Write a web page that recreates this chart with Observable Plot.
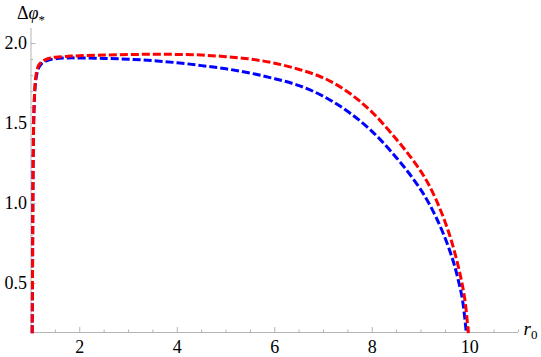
<!DOCTYPE html>
<html>
<head>
<meta charset="utf-8">
<script src="https://cdn.jsdelivr.net/npm/d3@7"></script>
<script src="https://cdn.jsdelivr.net/npm/@observablehq/plot@0.6"></script>
<style>
  html, body { margin: 0; padding: 0; background: #fff; }
  #chart svg { display: block; }
  #chart svg text { font-family: "Liberation Serif", "DejaVu Serif", "Tinos", "Times New Roman", serif !important; }
</style>
</head>
<body>
<div id="chart"></div>
<script>
// Blue curve (r0, Δφ*)
const blueX = [1.025, 1.032, 1.038, 1.045, 1.055, 1.07, 1.09, 1.12, 1.16, 1.22, 1.3, 1.4, 1.5, 1.75, 2.0, 2.5, 3.0, 3.5, 4.0, 4.5, 5.0, 5.5, 6.0, 6.5, 7.0, 7.5, 8.0, 8.5, 8.85, 9.1, 9.3, 9.5, 9.65, 9.75, 9.85, 9.93];
const blueY = [0.19, 0.6, 1.0, 1.3, 1.5, 1.65, 1.75, 1.81, 1.85, 1.875, 1.89, 1.9, 1.905, 1.91, 1.91, 1.907, 1.902, 1.893, 1.88, 1.862, 1.842, 1.815, 1.78, 1.737, 1.67, 1.575, 1.45, 1.285, 1.15, 1.035, 0.92, 0.78, 0.65, 0.54, 0.40, 0.19];
// Red curve (r0, Δφ*)
const redX = [1.025, 1.032, 1.038, 1.045, 1.055, 1.07, 1.09, 1.12, 1.16, 1.22, 1.3, 1.4, 1.5, 1.75, 2.0, 2.5, 3.0, 3.5, 4.0, 4.5, 5.0, 5.5, 6.0, 6.5, 7.0, 7.5, 8.0, 8.5, 8.85, 9.1, 9.3, 9.5, 9.65, 9.8, 9.9, 9.97];
const redY = [0.19, 0.6, 1.0, 1.3, 1.52, 1.67, 1.77, 1.83, 1.865, 1.885, 1.9, 1.91, 1.915, 1.92, 1.924, 1.928, 1.931, 1.933, 1.932, 1.928, 1.918, 1.903, 1.877, 1.838, 1.785, 1.697, 1.57, 1.40, 1.265, 1.15, 1.03, 0.88, 0.74, 0.56, 0.40, 0.19];
// Axis ticks and labels
const xMajor = [2, 4, 6, 8, 10];
const xMinor = [1.5, 2.5, 3, 3.5, 4.5, 5, 5.5, 6.5, 7, 7.5, 8.5, 9, 9.5, 10.5, 11];
const yMajor = [0.5, 1.0, 1.5, 2.0];
const yMinor = [0.3, 0.4, 0.6, 0.7, 0.8, 0.9, 1.1, 1.2, 1.3, 1.4, 1.6, 1.7, 1.8, 1.9];
const xDomain = [1, 11];
const yDomain = [0.194, 2.094];
const xLabel = "r0";
const yLabel = "Δφ*";

const blue = blueX.map((x, i) => ({x, y: blueY[i]}));
const red = redX.map((x, i) => ({x, y: redY[i]}));

const W = 541, H = 357;
const mL = 30.5, mR = 23, mT = 28, mB = 25;
const pxPerX = (W - mL - mR) / (xDomain[1] - xDomain[0]);
const pxPerY = (H - mT - mB) / (yDomain[1] - yDomain[0]);
const x0 = xDomain[0], y0 = yDomain[0];
const axisColor = "#b5b5b5";
const font = "'Liberation Serif', 'DejaVu Serif', serif";

const plot = Plot.plot({
  width: W, height: H,
  marginLeft: mL, marginRight: mR, marginTop: mT, marginBottom: mB,
  x: {domain: xDomain, axis: null},
  y: {domain: yDomain, axis: null},
  style: {background: "white", overflow: "visible"},
  marks: [
    // axis lines
    Plot.ruleY([y0], {x1: x0, x2: xDomain[1], stroke: axisColor, strokeWidth: 1}),
    Plot.ruleX([x0], {y1: y0, y2: yDomain[1], stroke: axisColor, strokeWidth: 1}),
    // x ticks (inward)
    Plot.ruleX(xMajor, {y1: y0, y2: y0 + 5 / pxPerY, stroke: axisColor}),
    Plot.ruleX(xMinor, {y1: y0, y2: y0 + 2.5 / pxPerY, stroke: axisColor}),
    // y ticks (inward)
    Plot.ruleY(yMajor, {x1: x0, x2: x0 + 5 / pxPerX, stroke: axisColor}),
    Plot.ruleY(yMinor, {x1: x0, x2: x0 + 2.5 / pxPerX, stroke: axisColor}),
    // tick labels
    Plot.text(xMajor, {x: d => d, y: y0, text: d => String(d), dy: 15, fontSize: 18, fontFamily: font, fill: "black"}),
    Plot.text(yMajor, {x: x0, y: d => d, text: d => d.toFixed(1), dx: -4, textAnchor: "end", fontSize: 18, fontFamily: font, fill: "black"}),
    // curves
    Plot.line(blue, {x: "x", y: "y", stroke: "#0000ff", strokeWidth: 3, strokeDasharray: "8,3", strokeLinecap: "butt", strokeLinejoin: "miter", curve: "catmull-rom"}),
    Plot.line(red, {x: "x", y: "y", stroke: "#ff0000", strokeWidth: 3, strokeDasharray: "8,3", strokeLinecap: "butt", strokeLinejoin: "miter", curve: "catmull-rom"}),
    // axis labels
    Plot.text([xLabel], {x: xDomain[1], y: y0, text: d => d, dx: 5, dy: -4, textAnchor: "start", fontSize: 19, fontFamily: font, fill: "black", className: "xlab"}),
    Plot.text([yLabel], {x: x0, y: yDomain[1], text: d => d, dy: -15, textAnchor: "middle", fontSize: 18, fontFamily: font, fill: "black", className: "ylab"})
  ]
});
document.getElementById("chart").appendChild(plot);

// Format axis labels with italic and subscripts
d3.select(plot).selectAll(".xlab text").each(function() {
  const t = d3.select(this);
  t.text(null);
  t.append("tspan").attr("font-style", "italic").text("r");
  t.append("tspan").attr("font-size", 13).attr("dy", 4).text("0");
});
d3.select(plot).selectAll(".ylab text").each(function() {
  const t = d3.select(this);
  t.text(null);
  t.append("tspan").text("Δ");
  t.append("tspan").attr("font-style", "italic").text("φ");
  t.append("tspan").attr("font-size", 13).attr("dy", 5).text("*");
});
</script>
</body>
</html>
